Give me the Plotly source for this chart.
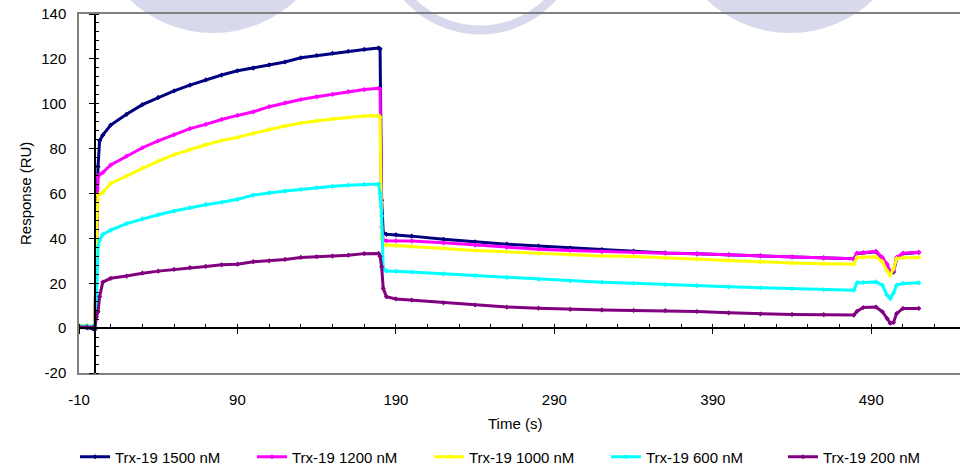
import plotly.graph_objects as go

# ---- data ----
time_s = [-10, -5, -1, 0, 1, 2, 3, 5, 10, 20, 30, 40, 50, 60, 70, 80, 90, 100, 110, 120,
          130, 140, 150, 160, 170, 179, 180, 181, 182, 184, 190, 200, 220, 240, 260, 280,
          300, 320, 340, 360, 380, 400, 420, 440, 460, 479, 481, 485, 493, 497, 500, 502,
          504, 506, 510, 520]

trx_1500 = [0.3, 0.2, -0.3, -0.5, 40, 72, 83.5, 86, 90.5, 95.3, 99.6, 102.8, 105.7, 108.3, 110.6, 112.8, 114.7, 115.9, 117.3, 118.6,
            120.5, 121.5, 122.5, 123.4, 124.2, 124.8, 124.5, 57, 42.5, 41.8, 41.6, 41.0, 39.6, 38.4, 37.4, 36.6,
            35.7, 35.0, 34.3, 33.5, 33.1, 32.7, 32.2, 31.7, 31.3, 30.9, 33.2, 33.5, 34.0, 31.0, 27.0, 24.4,
            25.0, 31.0, 33.2, 33.7]

trx_1200 = [1.0, 1.0, 0.8, 0.5, 35, 67.5, 68.5, 69.3, 72.7, 76.7, 80.4, 83.5, 86.2, 88.9, 90.8, 93.0, 94.8, 96.4, 98.7, 100.4,
            101.9, 103.1, 104.2, 105.4, 106.3, 106.9, 106.5, 45, 39.2, 38.9, 38.9, 38.8, 38.0, 37.0, 36.0, 35.2,
            34.6, 34.1, 33.7, 33.4, 33.1, 32.7, 32.3, 31.8, 31.3, 30.9, 33.4, 33.6, 34.2, 31.5, 28.5, 25.1,
            25.5, 31.5, 33.4, 33.8]

trx_1000 = [1.2, 1.2, 1.0, 0.8, 42, 59.3, 59.8, 60.5, 64.5, 67.8, 71.4, 74.4, 77.3, 79.6, 81.7, 83.6, 85.0, 86.8, 88.6, 90.1,
            91.4, 92.4, 93.2, 93.9, 94.5, 94.7, 94.0, 40, 37.0, 37.0, 36.8, 36.4, 35.5, 34.6, 34.0, 33.3,
            32.6, 32.2, 31.9, 31.3, 30.7, 30.2, 29.5, 29.0, 28.7, 28.5, 31.5, 31.6, 31.8, 29.6, 25.5, 23.6,
            26.5, 31.0, 31.4, 31.5]

trx_600 = [1.0, 1.0, 0.8, 0.5, 12.5, 36.3, 39.2, 41.8, 43.7, 46.6, 48.7, 50.5, 52.2, 53.7, 55.0, 56.1, 57.4, 59.3, 60.3, 61.1,
           61.8, 62.6, 63.2, 63.7, 64.1, 64.2, 60, 50, 26.5, 25.5, 25.3, 25.0, 24.2, 23.4, 22.6, 21.8,
           21.1, 20.5, 20.0, 19.4, 18.9, 18.4, 18.0, 17.6, 17.2, 16.9, 20.2, 20.3, 20.6, 19.2, 14.7, 13.2,
           15.5, 19.2, 19.9, 20.2]

trx_200 = [0.5, 0.5, 0.3, 0.0, 5.0, 7.3, 14, 20.5, 22.2, 23.2, 24.5, 25.4, 26.2, 27.0, 27.5, 28.2, 28.5, 29.6, 30.0, 30.6,
           31.5, 31.8, 32.1, 32.5, 33.2, 33.3, 32.0, 27.3, 17.7, 14.0, 13.0, 12.5, 11.3, 10.3, 9.4, 8.9,
           8.4, 8.1, 7.9, 7.8, 7.4, 6.8, 6.3, 6.1, 6.0, 5.8, 7.5, 9.2, 9.4, 7.3, 4.3, 2.2,
           2.5, 6.5, 8.8, 8.8]

series_names = ["Trx-19 1500 nM", "Trx-19 1200 nM", "Trx-19 1000 nM", "Trx-19 600 nM", "Trx-19 200 nM"]
series_values = [trx_1500, trx_1200, trx_1000, trx_600, trx_200]
series_colors = ["#000080", "#FF00FF", "#FFFF00", "#00FFFF", "#800080"]

x_ticks = [-10, 90, 190, 290, 390, 490]
x_tick_text = ["-10", "90", "190", "290", "390", "490"]
y_ticks = [-20, 0, 20, 40, 60, 80, 100, 120, 140]
y_tick_text = ["-20", "0", "20", "40", "60", "80", "100", "120", "140"]

X_RANGE = [-10, 546]
Y_RANGE = [-20, 140]

FONT = "Arial, 'Liberation Sans', sans-serif"

fig = go.Figure()

for name, vals, col in zip(series_names, series_values, series_colors):
    fig.add_trace(go.Scatter(
        x=time_s, y=vals, name=name, mode="lines+markers",
        line=dict(color=col, width=3),
        marker=dict(color=col, size=4, symbol="diamond"),
    ))

# invisible trace to host the zero-crossing axes
fig.add_trace(go.Scatter(x=[None], y=[None], xaxis="x2", yaxis="y2",
                         showlegend=False, hoverinfo="skip"))

# light watermark shapes (pixel positions converted to paper coordinates)
W_PLOT = 881.0
H_PLOT = 359.0
def px_x(p):
    return (p - 79) / W_PLOT
def px_y(p):
    return (373 - p) / H_PLOT

wm = "#D9D9EE"
shapes = [
    dict(type="circle", xref="paper", yref="paper", layer="below",
         x0=px_x(92), x1=px_x(334), y0=px_y(33), y1=px_y(-209),
         fillcolor=wm, line=dict(width=0)),
    dict(type="circle", xref="paper", yref="paper", layer="below",
         x0=px_x(669), x1=px_x(911), y0=px_y(33), y1=px_y(-209),
         fillcolor=wm, line=dict(width=0)),
    dict(type="circle", xref="paper", yref="paper", layer="below",
         x0=px_x(480 - 97), x1=px_x(480 + 97), y0=px_y(-67 + 97), y1=px_y(-67 - 97),
         fillcolor="rgba(0,0,0,0)", line=dict(color=wm, width=9)),
]

zero_x_pos = (0 - Y_RANGE[0]) / (Y_RANGE[1] - Y_RANGE[0])
zero_y_pos = (0 - X_RANGE[0]) / (X_RANGE[1] - X_RANGE[0])

fig.update_layout(
    width=960, height=466,
    margin=dict(l=79, r=0, t=14, b=93, autoexpand=False),
    paper_bgcolor="white", plot_bgcolor="rgba(0,0,0,0)",
    font=dict(family=FONT, size=15, color="black"),
    shapes=shapes,
    xaxis=dict(range=X_RANGE, tickvals=x_ticks, ticktext=x_tick_text, ticks="",
               showgrid=False, zeroline=False, automargin=False,
               showline=True, linecolor="#808080", linewidth=1.5, mirror=True,
               ticklabelstandoff=12, tickfont=dict(size=15)),
    yaxis=dict(range=Y_RANGE, tickvals=y_ticks, ticktext=y_tick_text, ticks="",
               showgrid=False, zeroline=False, automargin=False,
               showline=True, linecolor="#808080", linewidth=1.5,
               ticklabelstandoff=8, tickfont=dict(size=15)),
    xaxis2=dict(range=X_RANGE, overlaying="x", anchor="free", position=zero_x_pos,
                showgrid=False, zeroline=False, showticklabels=False, automargin=False,
                showline=True, linecolor="black", linewidth=1.5,
                ticks="outside", ticklen=5, tickwidth=1, tickcolor="black",
                tick0=-10, dtick=100,
                minor=dict(ticks="inside", ticklen=3, tickwidth=1, tickcolor="black",
                           tick0=-10, dtick=20, showgrid=False)),
    yaxis2=dict(range=Y_RANGE, overlaying="y", anchor="free", position=zero_y_pos,
                showgrid=False, zeroline=False, showticklabels=False, automargin=False,
                showline=True, linecolor="black", linewidth=1.5,
                ticks="outside", ticklen=5, tickwidth=1, tickcolor="black",
                tick0=0, dtick=20,
                minor=dict(ticks="inside", ticklen=3, tickwidth=1, tickcolor="black",
                           tick0=0, dtick=4, showgrid=False)),
    legend=dict(orientation="h", x=px_x(75), xanchor="left", y=px_y(457), yanchor="middle",
                font=dict(size=15), itemwidth=30, entrywidth=132, entrywidthmode="pixels",
                bgcolor="rgba(0,0,0,0)"),
    annotations=[
        dict(text="Time (s)", xref="paper", yref="paper", x=px_x(515), y=px_y(423),
             xanchor="center", yanchor="middle", showarrow=False, font=dict(size=15)),
        dict(text="Response (RU)", xref="paper", yref="paper", x=px_x(25), y=px_y(194),
             xanchor="center", yanchor="middle", textangle=-90, showarrow=False,
             font=dict(size=15)),
    ],
)

fig.write_html("out.html", config={"displayModeBar": False},
               post_script="document.body.style.margin='0px';")
